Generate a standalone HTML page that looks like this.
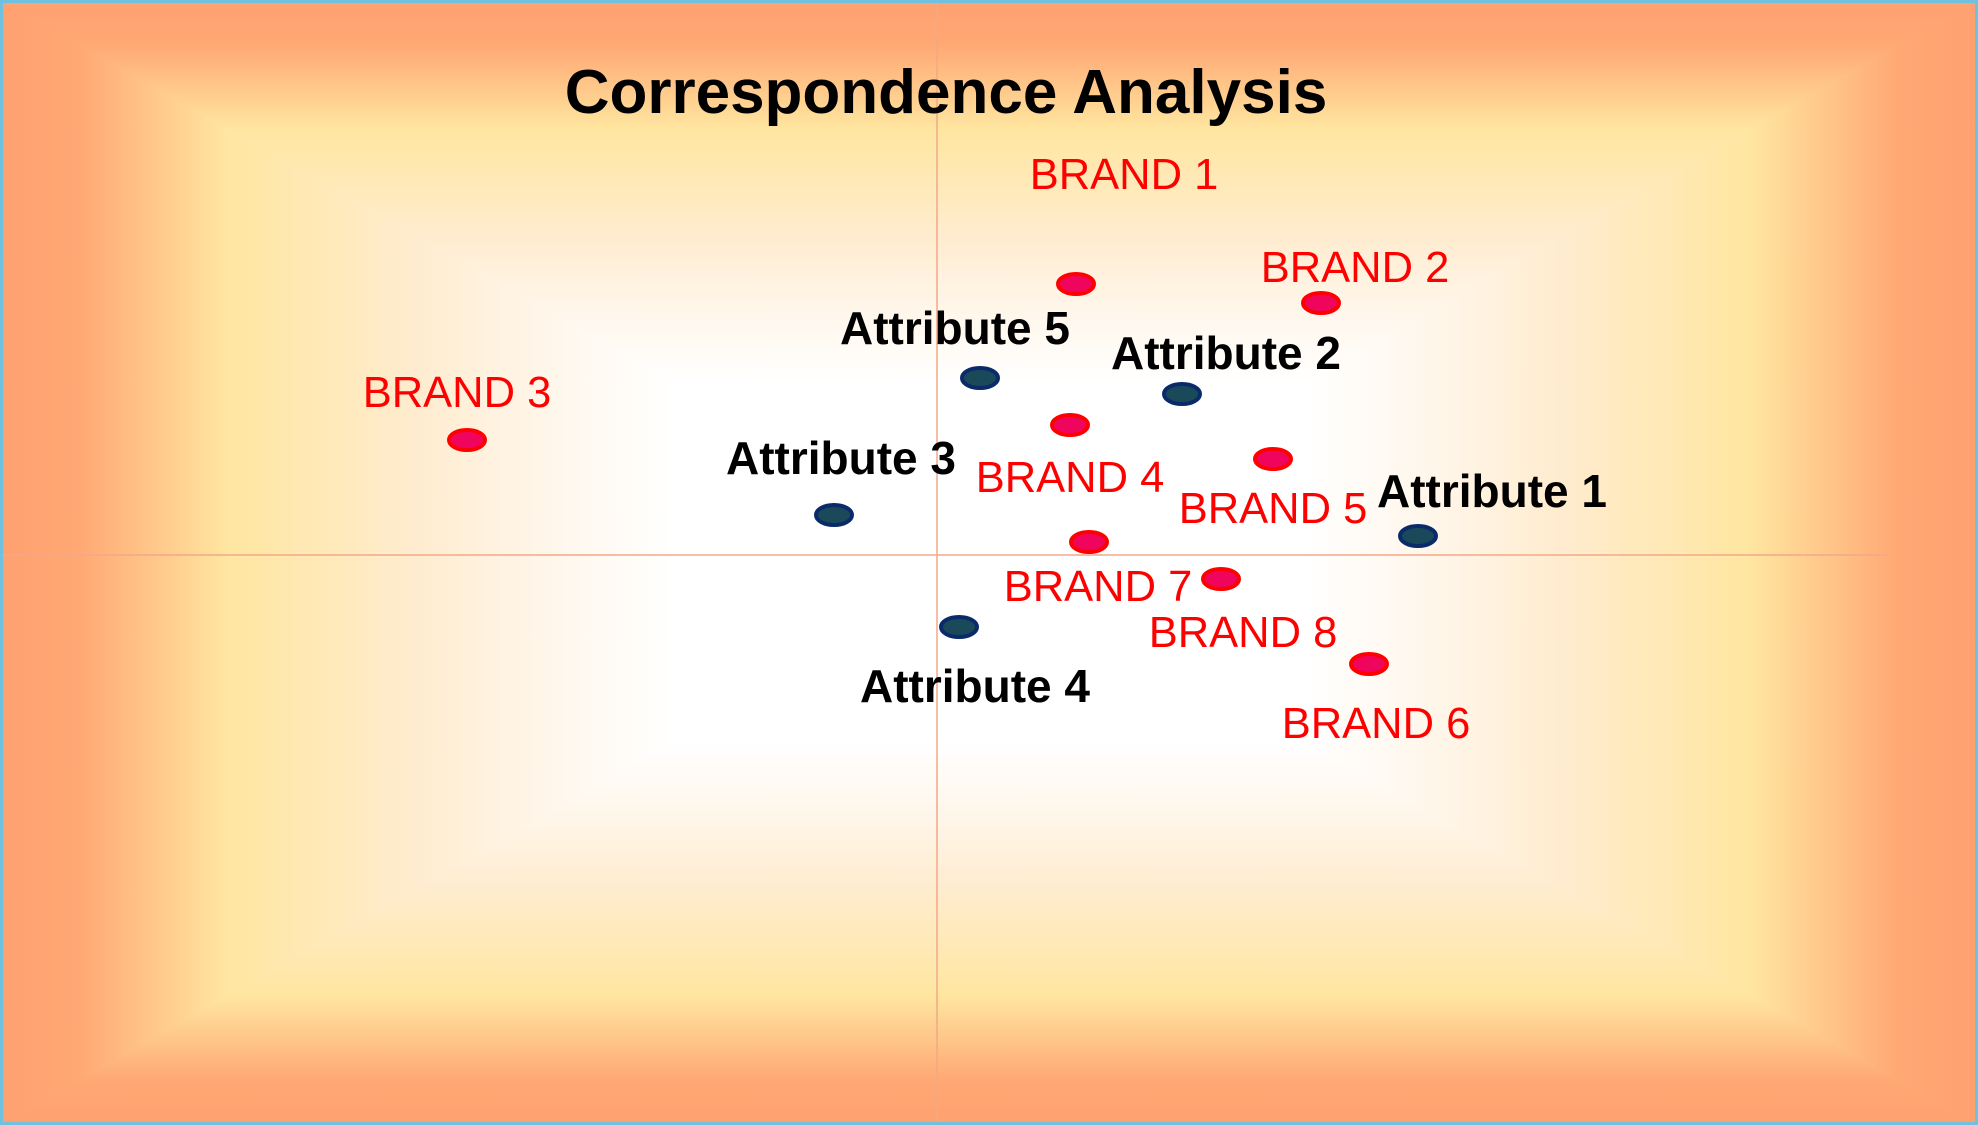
<!DOCTYPE html>
<html><head><meta charset="utf-8"><style>
html,body{margin:0;padding:0;}
body{width:1978px;height:1125px;overflow:hidden;}
svg{display:block;}
.r{font-family:"Liberation Sans",sans-serif;font-size:43.5px;fill:#ff0000;text-anchor:middle;}
.b{font-family:"Liberation Sans",sans-serif;font-size:46px;font-weight:bold;fill:#000;text-anchor:middle;}
</style></head><body>
<svg width="1978" height="1125" viewBox="0 0 1978 1125">
<defs>
<linearGradient id="gl" x1="0" y1="0" x2="989" y2="0" gradientUnits="userSpaceOnUse">
<stop offset="0" stop-color="#ffa070"/><stop offset="0.08" stop-color="#ffa874"/><stop offset="0.23" stop-color="#ffe6a0"/><stop offset="0.42" stop-color="#ffeccf"/><stop offset="0.55" stop-color="#fff6ea"/><stop offset="0.68" stop-color="#ffffff"/><stop offset="1" stop-color="#ffffff"/></linearGradient>
<linearGradient id="gr" x1="1978" y1="0" x2="989" y2="0" gradientUnits="userSpaceOnUse">
<stop offset="0" stop-color="#ffa070"/><stop offset="0.08" stop-color="#ffa874"/><stop offset="0.23" stop-color="#ffe6a0"/><stop offset="0.42" stop-color="#ffeccf"/><stop offset="0.55" stop-color="#fff6ea"/><stop offset="0.68" stop-color="#ffffff"/><stop offset="1" stop-color="#ffffff"/></linearGradient>
<linearGradient id="gt" x1="0" y1="0" x2="0" y2="562" gradientUnits="userSpaceOnUse">
<stop offset="0" stop-color="#ffa070"/><stop offset="0.08" stop-color="#ffa874"/><stop offset="0.23" stop-color="#ffe6a0"/><stop offset="0.42" stop-color="#ffeccf"/><stop offset="0.55" stop-color="#fff6ea"/><stop offset="0.68" stop-color="#ffffff"/><stop offset="1" stop-color="#ffffff"/></linearGradient>
<linearGradient id="gb" x1="0" y1="1125" x2="0" y2="562" gradientUnits="userSpaceOnUse">
<stop offset="0" stop-color="#ffa070"/><stop offset="0.08" stop-color="#ffa874"/><stop offset="0.23" stop-color="#ffe6a0"/><stop offset="0.42" stop-color="#ffeccf"/><stop offset="0.55" stop-color="#fff6ea"/><stop offset="0.68" stop-color="#ffffff"/><stop offset="1" stop-color="#ffffff"/></linearGradient>
</defs>
<polygon points="0,0 989,562 0,1125" fill="url(#gl)" stroke="url(#gl)" stroke-width="1"/>
<polygon points="1978,0 989,562 1978,1125" fill="url(#gr)" stroke="url(#gr)" stroke-width="1"/>
<polygon points="0,0 1978,0 989,562" fill="url(#gt)"/>
<polygon points="0,1125 1978,1125 989,562" fill="url(#gb)"/>
<rect x="1.5" y="1.5" width="1975" height="1122" fill="none" stroke="#70c0e0" stroke-width="3"/>
<line x1="937" y1="3" x2="937" y2="1122" stroke="#f4a888" stroke-width="1.5"/>
<line x1="3" y1="555" x2="1888" y2="555" stroke="#f4a888" stroke-width="1.5"/>
<text x="946" y="113" font-family="Liberation Sans,sans-serif" font-size="62" font-weight="bold" text-anchor="middle" fill="#000">Correspondence Analysis</text>
<g fill="#f0055e" stroke="#ff0000" stroke-width="4">
<ellipse cx="1076" cy="284" rx="18" ry="10"/>
<ellipse cx="1321" cy="303" rx="18" ry="10"/>
<ellipse cx="467" cy="440" rx="18" ry="10"/>
<ellipse cx="1070" cy="425" rx="18" ry="10"/>
<ellipse cx="1273" cy="459" rx="18" ry="10"/>
<ellipse cx="1089" cy="542" rx="18" ry="10"/>
<ellipse cx="1221" cy="579" rx="18" ry="10"/>
<ellipse cx="1369" cy="664" rx="18" ry="10"/>
</g>
<g fill="#1a4a5a" stroke="#0a2a6a" stroke-width="4">
<ellipse cx="980" cy="378" rx="18" ry="10"/>
<ellipse cx="1182" cy="394" rx="18" ry="10"/>
<ellipse cx="834" cy="515" rx="18" ry="10"/>
<ellipse cx="1418" cy="536" rx="18" ry="10"/>
<ellipse cx="959" cy="627" rx="18" ry="10"/>
</g>
<text class="r" x="1124" y="189">BRAND 1</text>
<text class="r" x="1355" y="282">BRAND 2</text>
<text class="r" x="457" y="407">BRAND 3</text>
<text class="r" x="1070" y="492">BRAND 4</text>
<text class="r" x="1273" y="523">BRAND 5</text>
<text class="r" x="1098" y="601">BRAND 7</text>
<text class="r" x="1243" y="647">BRAND 8</text>
<text class="r" x="1376" y="738">BRAND 6</text>
<text class="b" x="955" y="344">Attribute 5</text>
<text class="b" x="1226" y="369">Attribute 2</text>
<text class="b" x="841" y="474">Attribute 3</text>
<text class="b" x="1492" y="507">Attribute 1</text>
<text class="b" x="975" y="702">Attribute 4</text>
</svg>
</body></html>
